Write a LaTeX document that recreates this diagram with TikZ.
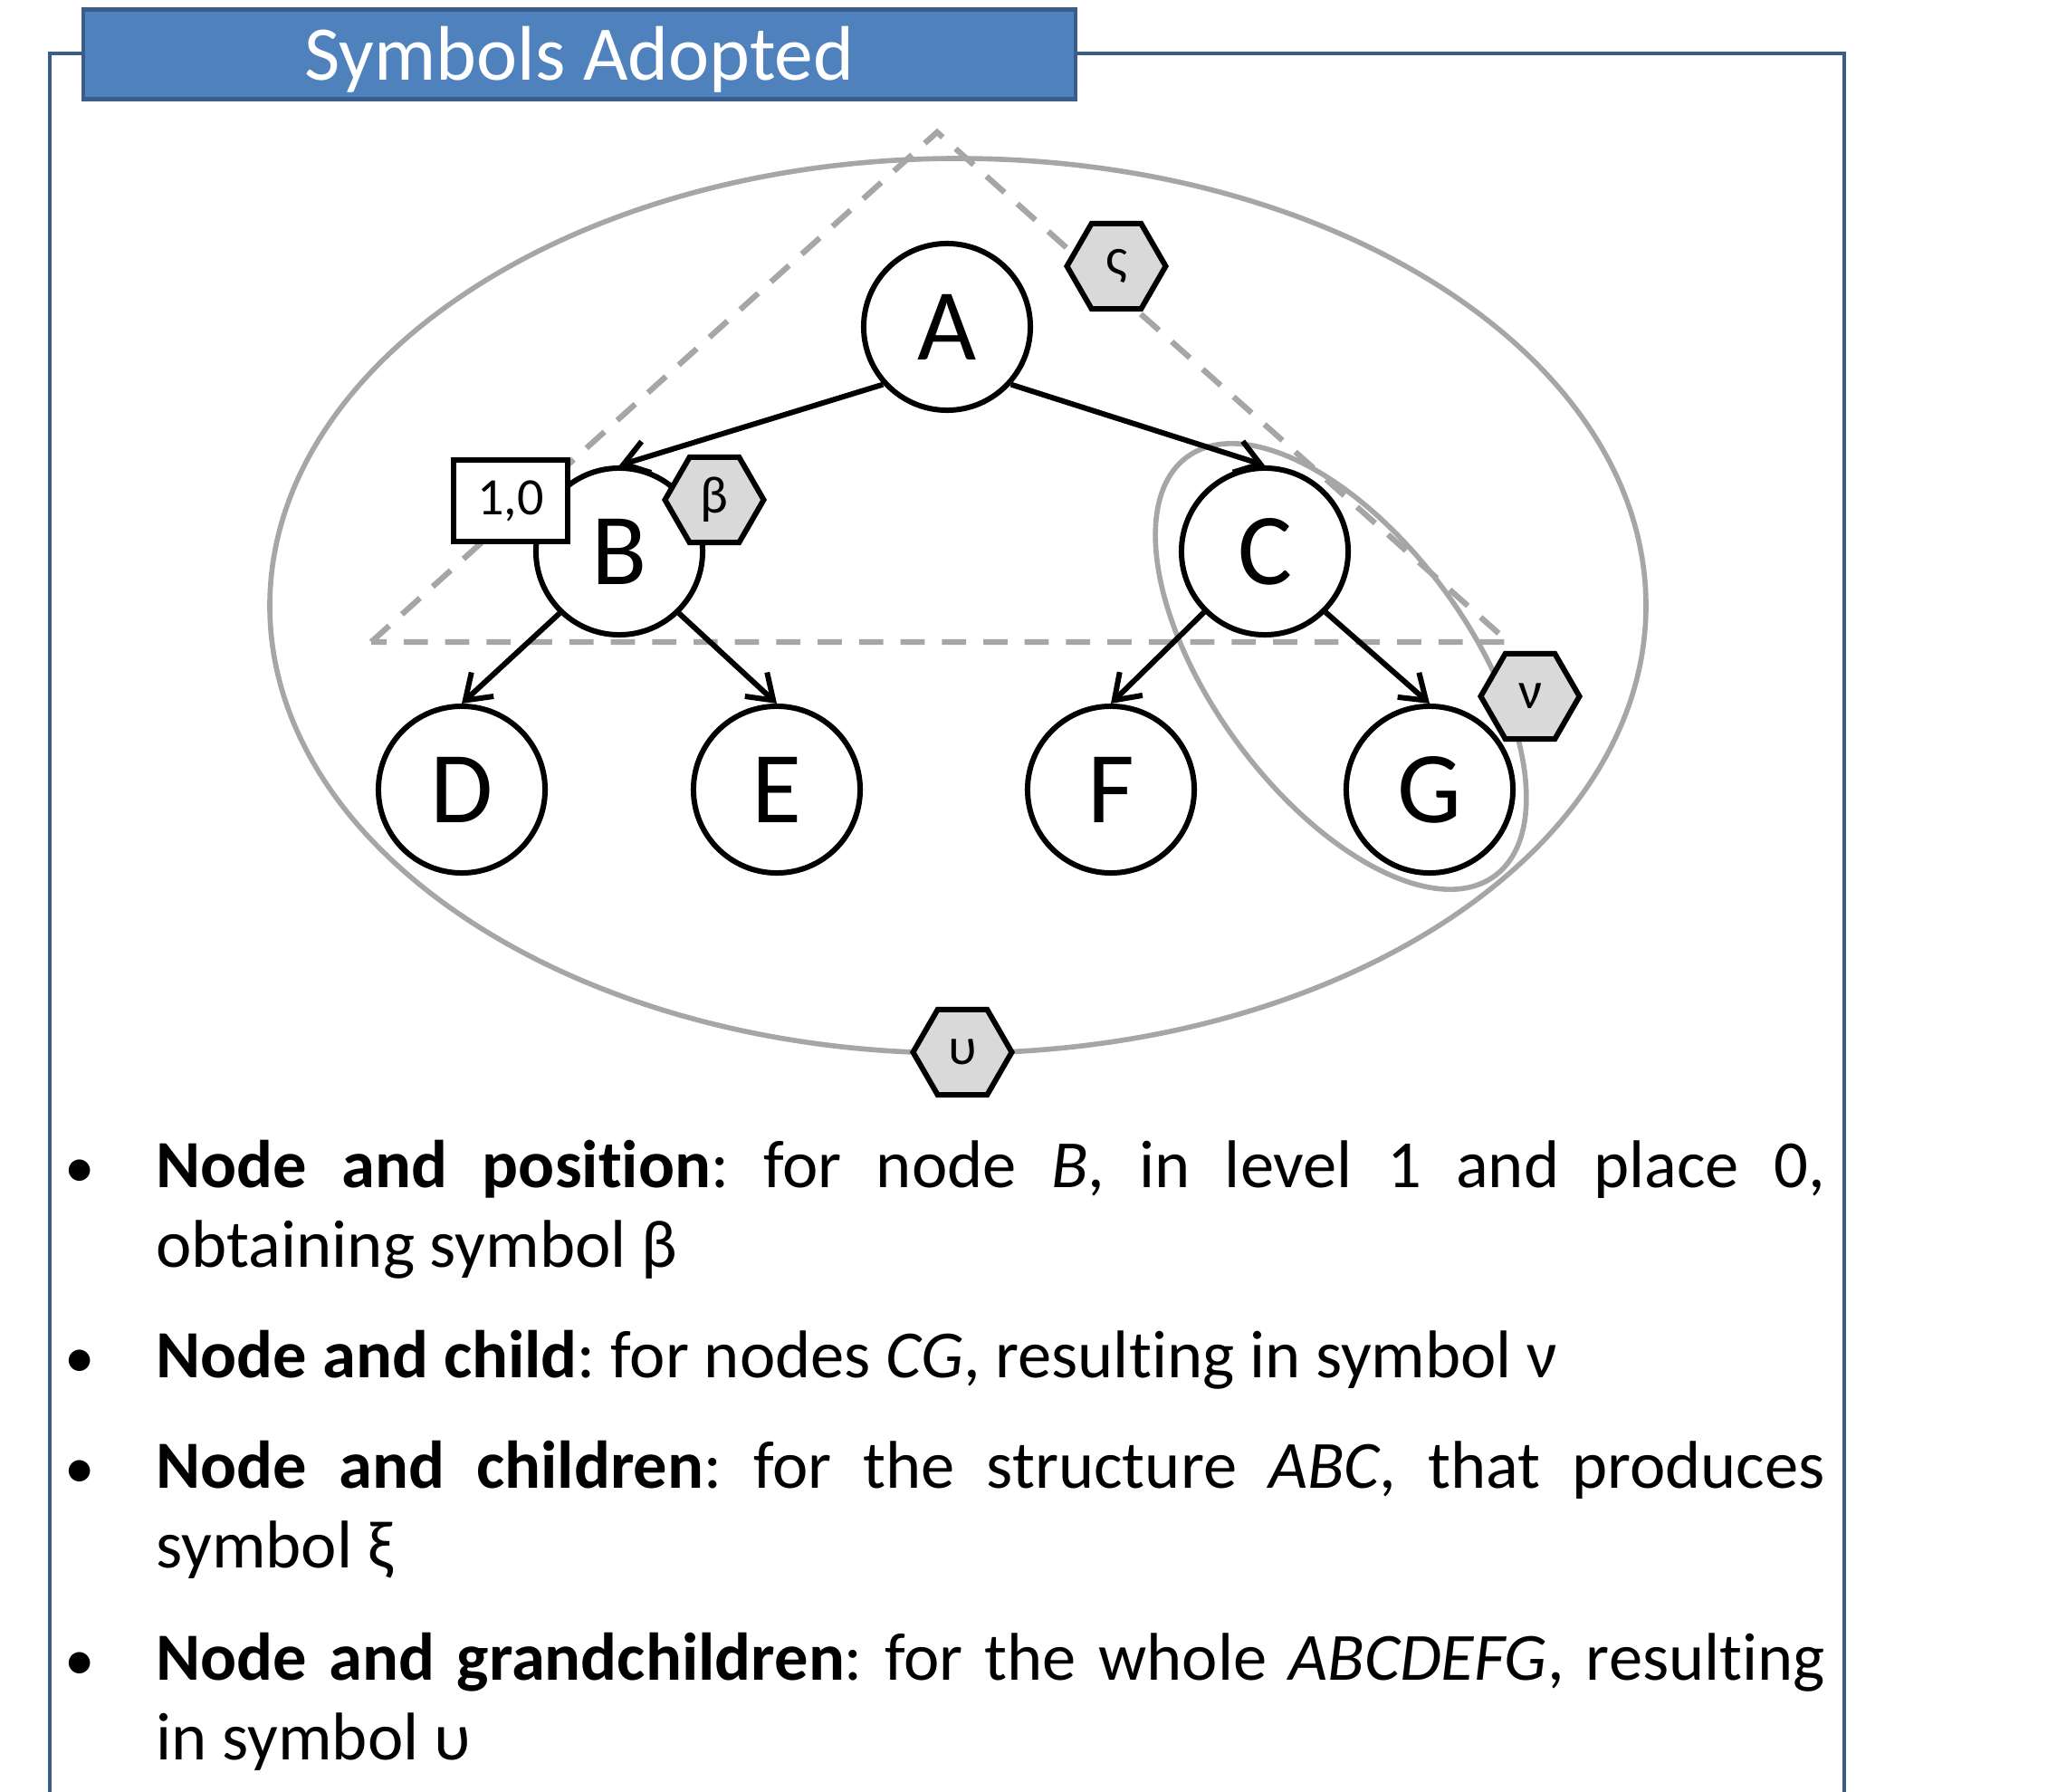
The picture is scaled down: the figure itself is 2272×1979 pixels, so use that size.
\documentclass[tikz,border=0pt]{standalone}
\usepackage{fontspec}
\setmainfont{Carlito}[Ligatures=NoCommon]
\usetikzlibrary{arrows.meta,shapes.geometric}

\definecolor{barblue}{HTML}{4F81BD}
\definecolor{edgeblue}{HTML}{385D8A}
\definecolor{ringgray}{HTML}{A6A6A6}
\definecolor{hexfill}{HTML}{D9D9D9}

\tikzset{
	treenode/.style={circle, draw, line width=1.7pt, fill=white, minimum size=1.84cm, inner sep=0pt, font=\fontsize{32}{36}\selectfont},
	edge/.style={line width=1.7pt, -{Straight Barb[length=2.6mm, width=3.6mm]}},
	hexsym/.style={regular polygon, regular polygon sides=6, draw, line width=1.7pt, fill=hexfill, minimum size=1.09cm, inner sep=0pt, font=\fontsize{16.5}{18}\selectfont},
	posbox/.style={rectangle, draw, line width=1.7pt, fill=white, minimum width=1.25cm, minimum height=0.89cm, inner sep=0pt, font=\fontsize{16.5}{18}\selectfont},
	ring/.style={draw=ringgray, line width=1.6pt},
	guide/.style={draw=ringgray, line width=1.8pt, dash pattern=on 7.6pt off 5.4pt},
	itemtext/.style={anchor=base west, text width=18.42cm, align=justify, inner sep=0pt, font=\fontsize{21.2}{25.3}\selectfont\frenchspacing},
	itemdot/.style={anchor=base, inner sep=0pt, font=\fontsize{19}{25.3}\selectfont}
}

\begin{document}
\begin{tikzpicture}[x=0.01cm, y=-0.01cm]
		%%%%% START %%%%%
		\useasboundingbox (0,0) rectangle (2272,1979);
		
		\draw[edgeblue, line width=1.3pt] (55,1990) -- (55,59) -- (2037,59) -- (2037,1990);
		\node[fill=barblue, draw=edgeblue, line width=1.3pt, minimum width=10.95cm, minimum height=0.99cm] (title) at (640,60) {};
		\node[text=white, inner sep=0pt, font=\fontsize{24.3}{28}\selectfont] (titletext) at (640,66) {Symbols Adopted};
		
		\draw[ring] (1058,669) ellipse [x radius=760, y radius=494];
		\draw[guide] (410,709) -- (1035,146) -- (1666,709) -- cycle;
		\draw[ring, rotate around={-53.7:(1481,736)}] (1481,736) ellipse [x radius=287, y radius=142];
		
		\node[treenode] (A) at (1046,361) {A};
		\node[treenode] (B) at (684,609) {B};
		\node[treenode] (C) at (1397,609) {C};
		\node[treenode] (D) at (510,872) {D};
		\node[treenode] (E) at (858,872) {E};
		\node[treenode] (F) at (1227,872) {F};
		\node[treenode] (G) at (1579,872) {G};
		
		\draw[edge] (A.222) -- (B.north);
		\draw[edge] (A.318) -- (C.north);
		\draw[edge] (B.226) -- (D.north);
		\draw[edge] (B.314) -- (E.north);
		\draw[edge] (C.225) -- (F.north);
		\draw[edge] (C.315) -- (G.north);
		
		\node[posbox] (place) at (564,553) {1,0};
		\node[hexsym] (sigma) at (1233,294) {ς};
		\node[hexsym] (beta) at (789,552) {β};
		\node[hexsym] (nu) at (1690,769) {ν};
		\node[hexsym] (upsilon) at (1063,1162) {υ};
		
		\node[itemdot] (dot1) at (88,1311) {•};
		\node[itemtext] (item1) at (172,1311) {\textbf{Node and position}: for node \textit{B}, in level 1 and place 0,\linebreak obtaining symbol β};
		\node[itemdot] (dot2) at (88,1521) {•};
		\node[itemtext] (item2) at (172,1521) {\textbf{Node and child}: for nodes \textit{CG}, resulting in symbol ν};
		\node[itemdot] (dot3) at (88,1643) {•};
		\node[itemtext] (item3) at (172,1643) {\textbf{Node and children}: for the structure \textit{ABC}, that produces\linebreak symbol ξ};
		\node[itemdot] (dot4) at (88,1855) {•};
		\node[itemtext] (item4) at (172,1855) {\textbf{Node and grandchildren}: for the whole \textit{ABCDEFG}, resulting\linebreak in symbol υ};
		
		%%%%% END %%%%%
\end{tikzpicture}
\end{document}
